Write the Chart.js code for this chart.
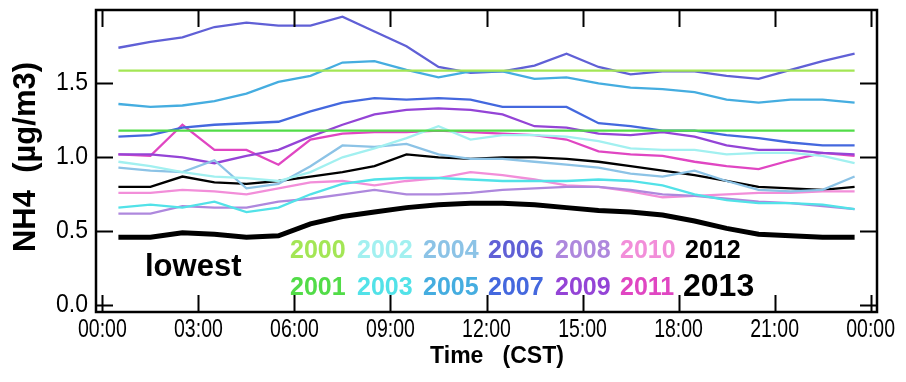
<!DOCTYPE html>
<html>
<head>
<meta charset="utf-8">
<script src="https://cdn.jsdelivr.net/npm/chart.js@4/dist/chart.umd.min.js"></script>
<style>
  html, body { margin: 0; padding: 0; background: #fff; }
  #wrap { width: 906px; height: 382px; position: relative; }
</style>
</head>
<body>
<div id="wrap"><canvas id="nh4"></canvas></div>
<script>
// hourly means, plotted at the half hour (CST)
var hours = [0.5, 1.5, 2.5, 3.5, 4.5, 5.5, 6.5, 7.5, 8.5, 9.5, 10.5, 11.5,
             12.5, 13.5, 14.5, 15.5, 16.5, 17.5, 18.5, 19.5, 20.5, 21.5, 22.5, 23.5];

var xTicks = [0, 3, 6, 9, 12, 15, 18, 21, 24];
var xTickLabels = ['00:00', '03:00', '06:00', '09:00', '12:00', '15:00', '18:00', '21:00', '00:00'];
var yTicks = [0, 0.5, 1.0, 1.5];
var yTickLabels = ['0.0', '0.5', '1.0', '1.5'];

var years = ['2000', '2001', '2002', '2003', '2004', '2005', '2006',
             '2007', '2008', '2009', '2010', '2011', '2012', '2013'];

var nh4_2000 = [1.585, 1.585, 1.585, 1.585, 1.585, 1.585, 1.585, 1.585, 1.585, 1.585, 1.585, 1.585,
                1.585, 1.585, 1.585, 1.585, 1.585, 1.585, 1.585, 1.585, 1.585, 1.585, 1.585, 1.585];
var nh4_2001 = [1.18, 1.18, 1.18, 1.18, 1.18, 1.18, 1.18, 1.18, 1.18, 1.18, 1.18, 1.18,
                1.18, 1.18, 1.18, 1.18, 1.18, 1.18, 1.18, 1.18, 1.18, 1.18, 1.18, 1.18];
var nh4_2002 = [0.97, 0.94, 0.90, 0.87, 0.86, 0.84, 0.90, 1.00, 1.06, 1.13, 1.21, 1.12,
                1.15, 1.15, 1.14, 1.11, 1.06, 1.05, 1.05, 1.02, 1.03, 1.03, 1.01, 0.96];
var nh4_2003 = [0.66, 0.68, 0.66, 0.70, 0.63, 0.66, 0.75, 0.82, 0.85, 0.86, 0.86, 0.85,
                0.84, 0.84, 0.84, 0.85, 0.84, 0.81, 0.75, 0.71, 0.69, 0.69, 0.68, 0.65];
var nh4_2004 = [0.93, 0.91, 0.90, 0.98, 0.79, 0.82, 0.94, 1.08, 1.07, 1.09, 1.02, 0.99,
                0.99, 0.97, 0.95, 0.93, 0.89, 0.87, 0.91, 0.84, 0.78, 0.77, 0.78, 0.87];
var nh4_2005 = [1.36, 1.34, 1.35, 1.38, 1.43, 1.51, 1.55, 1.64, 1.65, 1.59, 1.54, 1.58,
                1.58, 1.53, 1.54, 1.50, 1.47, 1.46, 1.44, 1.39, 1.37, 1.39, 1.39, 1.37];
var nh4_2006 = [1.74, 1.78, 1.81, 1.88, 1.91, 1.89, 1.89, 1.95, 1.85, 1.75, 1.61, 1.57,
                1.58, 1.62, 1.70, 1.61, 1.56, 1.58, 1.58, 1.55, 1.53, 1.59, 1.65, 1.70];
var nh4_2007 = [1.14, 1.15, 1.20, 1.22, 1.23, 1.24, 1.31, 1.37, 1.40, 1.39, 1.40, 1.39,
                1.34, 1.34, 1.34, 1.23, 1.21, 1.18, 1.18, 1.15, 1.13, 1.10, 1.08, 1.08];
var nh4_2008 = [0.62, 0.62, 0.67, 0.66, 0.66, 0.70, 0.72, 0.75, 0.78, 0.75, 0.75, 0.76,
                0.78, 0.79, 0.80, 0.80, 0.78, 0.75, 0.74, 0.72, 0.70, 0.69, 0.67, 0.65];
var nh4_2009 = [1.02, 1.02, 1.00, 0.96, 1.01, 1.05, 1.14, 1.22, 1.29, 1.32, 1.33, 1.32,
                1.29, 1.21, 1.20, 1.16, 1.15, 1.17, 1.14, 1.08, 1.05, 1.05, 1.03, 1.02];
var nh4_2010 = [0.76, 0.76, 0.78, 0.77, 0.75, 0.79, 0.83, 0.84, 0.81, 0.84, 0.86, 0.90,
                0.88, 0.85, 0.81, 0.80, 0.77, 0.73, 0.74, 0.75, 0.76, 0.76, 0.77, 0.77];
var nh4_2011 = [1.02, 1.01, 1.22, 1.05, 1.05, 0.95, 1.12, 1.16, 1.17, 1.17, 1.18, 1.17,
                1.16, 1.15, 1.12, 1.04, 1.02, 1.01, 0.97, 0.94, 0.92, 0.98, 1.03, 1.01];
var nh4_2012 = [0.80, 0.80, 0.87, 0.83, 0.82, 0.84, 0.87, 0.90, 0.94, 1.02, 1.00, 0.99,
                1.00, 1.00, 0.99, 0.97, 0.94, 0.91, 0.88, 0.84, 0.80, 0.79, 0.78, 0.80];
var nh4_2013 = [0.46, 0.46, 0.49, 0.48, 0.46, 0.47, 0.55, 0.60, 0.63, 0.66, 0.68, 0.69,
                0.69, 0.68, 0.66, 0.64, 0.63, 0.61, 0.57, 0.52, 0.48, 0.47, 0.46, 0.46];

var series = [nh4_2000, nh4_2001, nh4_2002, nh4_2003, nh4_2004, nh4_2005, nh4_2006,
              nh4_2007, nh4_2008, nh4_2009, nh4_2010, nh4_2011, nh4_2012, nh4_2013];

var COLORS = ['#a3e655', '#52dc48', '#a2f0f0', '#52e2e8', '#8cc3e6', '#45ade0', '#6060d6',
              '#4468de', '#ae88dd', '#9444d6', '#f28ed9', '#e046c2', '#000000', '#000000'];
var FONT = '"Liberation Sans", Arial, Helvetica, sans-serif';

function txt(ctx, s, x, y, font, color, align, base, sx) {
  ctx.save();
  ctx.translate(x, y);
  ctx.scale(sx || 1, 1);
  ctx.font = font; ctx.fillStyle = color;
  ctx.textAlign = align; ctx.textBaseline = base;
  ctx.fillText(s, 0, 0);
  ctx.restore();
}

// frame, inward ticks, labels and the in-plot year key
var decor = {
  id: 'decor',
  afterDraw: function (c) {
    var ctx = c.ctx, a = c.chartArea, xs = c.scales.x, ys = c.scales.y;
    var TL = 17;
    ctx.save();
    ctx.strokeStyle = '#000'; ctx.lineWidth = 2;
    xTicks.forEach(function (v) {
      var px = Math.round(xs.getPixelForValue(v)) + 0.5;
      ctx.beginPath();
      ctx.moveTo(px, a.bottom); ctx.lineTo(px, a.bottom - TL);
      ctx.moveTo(px, a.top); ctx.lineTo(px, a.top + TL);
      ctx.stroke();
    });
    yTicks.forEach(function (v) {
      var py = Math.round(ys.getPixelForValue(v)) + 0.5;
      ctx.beginPath();
      ctx.moveTo(a.left, py); ctx.lineTo(a.left + TL, py);
      ctx.moveTo(a.right, py); ctx.lineTo(a.right - TL, py);
      ctx.stroke();
    });
    ctx.lineWidth = 2.5;
    ctx.strokeRect(a.left, a.top, a.right - a.left, a.bottom - a.top);
    ctx.restore();

    xTicks.forEach(function (v, i) {
      txt(ctx, xTickLabels[i], xs.getPixelForValue(v), a.bottom + 18, '25px ' + FONT, '#000', 'center', 'middle', 0.78);
    });
    yTicks.forEach(function (v, i) {
      txt(ctx, yTickLabels[i], a.left - 8, ys.getPixelForValue(v), '25px ' + FONT, '#000', 'right', 'middle', 0.92);
    });
    txt(ctx, 'Time   (CST)', 497, 357, 'bold 23px ' + FONT, '#000', 'center', 'middle');

    ctx.save();
    ctx.translate(26, 157);
    ctx.rotate(-Math.PI / 2);
    txt(ctx, 'NH4  (µg/m3)', 0, 0, 'bold 31px ' + FONT, '#000', 'center', 'middle');
    ctx.restore();

    txt(ctx, 'lowest', 145, 276, 'bold 31px ' + FONT, '#000', 'left', 'alphabetic');

    var colX = [290, 357, 423, 488, 555, 620, 685];
    years.forEach(function (y, i) {
      var col = Math.floor(i / 2), row = i % 2;
      var big = y === '2013';
      txt(ctx, y, colX[col] + (big ? -2 : 0), row ? (big ? 296 : 295) : 258,
          'bold ' + (big ? 32 : 25) + 'px ' + FONT, COLORS[i], 'left', 'alphabetic');
    });
  }
};

var datasets = series.map(function (vals, i) {
  return {
    label: years[i],
    data: vals.map(function (v, k) { return { x: hours[k], y: v }; }),
    borderColor: COLORS[i],
    borderWidth: years[i] === '2013' ? 5 : 2.3,
    pointRadius: 0,
    tension: 0,
    fill: false
  };
});

new Chart(document.getElementById('nh4'), {
  type: 'line',
  data: { datasets: datasets },
  plugins: [decor],
  options: {
    responsive: true,
    maintainAspectRatio: false,
    animation: false,
    events: [],
    layout: { padding: { left: 0, right: 29, top: 10, bottom: 0 } },
    plugins: { legend: { display: false }, tooltip: { enabled: false } },
    scales: {
      x: {
        type: 'linear', min: -0.2, max: 24.2,
        grid: { display: false }, border: { display: false },
        ticks: { display: false },
        afterFit: function (s) { s.height = 70; }
      },
      y: {
        min: -0.045, max: 1.995,
        grid: { display: false }, border: { display: false },
        ticks: { display: false },
        afterFit: function (s) { s.width = 96; }
      }
    }
  }
});
</script>
</body>
</html>
